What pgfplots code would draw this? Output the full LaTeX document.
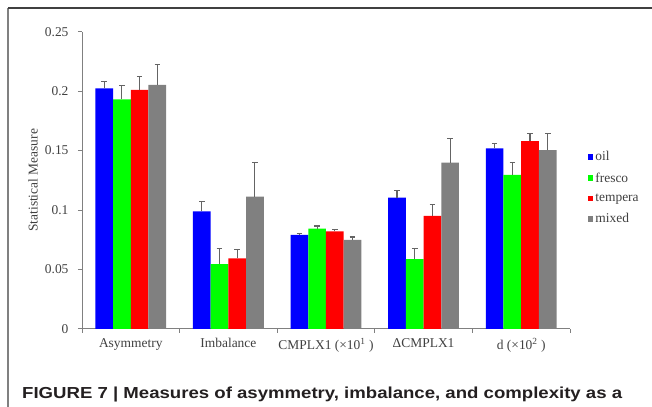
\documentclass[border=0pt]{standalone}
\usepackage{fontspec}
\setmainfont{Liberation Serif}
\newfontfamily\capfont{Liberation Sans}
\usepackage{graphicx}
\usepackage{pgfplots}
\usepackage{pgfplotstable}
\pgfplotsset{compat=1.18}

\definecolor{cblue}{RGB}{0,0,255}
\definecolor{cgreen}{RGB}{0,255,0}
\definecolor{cred}{RGB}{255,0,0}
\definecolor{cgray}{RGB}{128,128,128}
\definecolor{axgray}{RGB}{128,128,128}
\definecolor{txtgray}{RGB}{64,64,64}
\definecolor{errgray}{RGB}{100,100,100}
\definecolor{capcol}{RGB}{35,31,32}

\pgfplotstableread{
x y e
0 0.2023 0.0056
1 0.0988 0.0081
2 0.0790 0.0014
3 0.1105 0.0058
4 0.1518 0.0042
}\oil
\pgfplotstableread{
x y e
0 0.1931 0.0120
1 0.0544 0.0128
2 0.0843 0.0022
3 0.0586 0.0092
4 0.1295 0.0103
}\fresco
\pgfplotstableread{
x y e
0 0.2012 0.0111
1 0.0592 0.0075
2 0.0820 0.0017
3 0.0951 0.0093
4 0.1579 0.0064
}\tempera
\pgfplotstableread{
x y e
0 0.2054 0.0170
1 0.1113 0.0285
2 0.0748 0.0025
3 0.1398 0.0201
4 0.1504 0.0142
}\mixed

\begin{document}
\begin{tikzpicture}[x=1bp,y=1bp]
\useasboundingbox (0,0) rectangle (652,406);
\draw[black!50, line width=1.2bp] (8,398) -- (8,-20);
\draw[black!75, line width=1.5bp] (8,398) -- (680,398);
\begin{axis}[
  at={(84,65)}, anchor=south west,
  scale only axis, width=488bp, height=297bp,
  ybar=0pt, bar width=17.7bp,
  xmin=-0.5, xmax=4.5, ymin=0, ymax=0.25,
  axis x line*=bottom, axis y line*=left,
  axis line style={axgray, line width=0.9bp},
  tick style={axgray, line width=0.9bp},
  tick align=outside, major tick length=4bp,
  xtick={-0.5,0.5,1.5,2.5,3.5,4.5}, xticklabels={},
  extra x ticks={0,1,2,3,4},
  extra x tick labels={Asymmetry, Imbalance, CMPLX1 (×10\textsuperscript{1} ), ΔCMPLX1, d (×10\textsuperscript{2} )},
  extra x tick style={major tick length=0pt, xticklabel style={yshift=-6bp}},
  ytick={0,0.05,0.1,0.15,0.2,0.25},
  yticklabels={0,0.05,0.1,0.15,0.2,0.25},
  yticklabel style={xshift=-6bp},
  scaled y ticks=false,
  /pgf/number format/assume math mode=true,
  tick label style={font=\fontsize{13.5}{15}\selectfont, text=txtgray},
  ylabel={Statistical Measure},
  ylabel style={at={(axis description cs:-0.1004,0.5)}, anchor=center, font=\fontsize{13.5}{15}\selectfont, text=txtgray},
  legend style={at={(1.036,0.605)}, anchor=north west, draw=none, fill=none,
    font=\fontsize{13.5}{15}\selectfont, text=txtgray, row sep=6.5bp, inner sep=0pt},
  legend cell align=left,
  sq legend/.style={legend image code/.code={\fill[##1] (0bp,-2.8bp) rectangle (5.6bp,2.8bp);}},
  error bars/y dir=plus, error bars/y explicit,
  error bars/error bar style={errgray, line width=1.1bp},
  error bars/error mark options={rotate=90, errgray, mark size=2.8bp, line width=1.1bp},
]
\addplot[fill=cblue, draw=none, sq legend] table[x=x, y=y, y error=e] {\oil};
\addplot[fill=cgreen, draw=none, sq legend] table[x=x, y=y, y error=e] {\fresco};
\addplot[fill=cred, draw=none, sq legend] table[x=x, y=y, y error=e] {\tempera};
\addplot[fill=cgray, draw=none, sq legend] table[x=x, y=y, y error=e] {\mixed};
\legend{oil, fresco, tempera, mixed}
\end{axis}
\node[anchor=base west, inner sep=0pt, text=capcol] at (22,8)
  {\resizebox{600bp}{\height}{\capfont\bfseries\fontsize{16}{18}\selectfont FIGURE 7 | Measures of asymmetry, imbalance, and complexity as a}};
\end{tikzpicture}
\end{document}
